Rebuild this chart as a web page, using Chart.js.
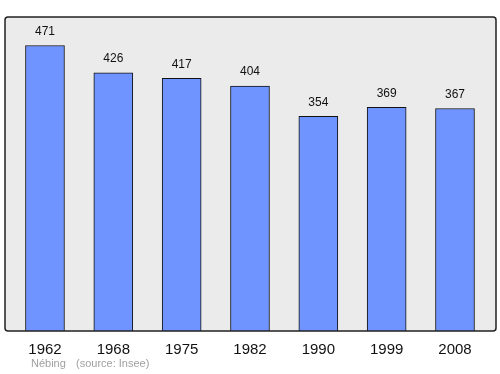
<!DOCTYPE html>
<html>
<head>
<meta charset="utf-8">
<script src="https://cdn.jsdelivr.net/npm/chart.js@4"></script>
<style>
  html, body { margin: 0; padding: 0; background: #fff; }
  #wrap { width: 500px; height: 374px; }
</style>
</head>
<body>
<div id="wrap"><canvas id="chart" width="500" height="374"></canvas></div>
<script>
// data
const years = ["1962", "1968", "1975", "1982", "1990", "1999", "2008"];
const population = [471, 426, 417, 404, 354, 369, 367];
const commune = "Nébing";
const source = "(source: Insee)";

// grey plot background with black rounded frame
const frame = {
    id: "frame",
    beforeDatasetsDraw(chart) {
        const { ctx, chartArea: a } = chart;
        ctx.save();
        ctx.beginPath();
        ctx.roundRect(a.left, a.top, a.right - a.left, a.bottom - a.top, 3);
        ctx.fillStyle = "#ebebeb";
        ctx.fill();
        ctx.restore();
    },
    afterDatasetsDraw(chart) {
        const { ctx, chartArea: a } = chart;
        ctx.save();
        ctx.beginPath();
        ctx.roundRect(a.left, a.top, a.right - a.left, a.bottom - a.top, 3);
        ctx.lineWidth = 1.5;
        ctx.strokeStyle = "#222";
        ctx.stroke();
        ctx.restore();
    },
    afterDraw(chart) {
        const { ctx } = chart;
        const meta = chart.getDatasetMeta(0);
        ctx.save();
        ctx.font = "12px 'Liberation Sans', Arial, sans-serif";
        ctx.fillStyle = "#111";
        ctx.textAlign = "center";
        ctx.textBaseline = "middle";
        meta.data.forEach((bar, i) => {
            ctx.fillText(population[i], bar.x, bar.y - 14);
        });
        // footer
        ctx.font = "11px 'Liberation Sans', Arial, sans-serif";
        ctx.fillStyle = "#a0a0a0";
        ctx.textAlign = "left";
        ctx.fillText(commune, 31, 364);
        ctx.fillText(source, 76, 364);
        ctx.restore();
    }
};

new Chart(document.getElementById("chart"), {
    type: "bar",
    data: {
        datasets: [{
            data: population.map((v, i) => ({ x: i, y: v })),
            backgroundColor: "#7094ff",
            borderColor: "#111",
            borderWidth: 1,
            barThickness: 39
        }]
    },
    options: {
        responsive: false,
        animation: false,
        layout: { padding: { left: 5, right: 4, top: 17, bottom: 13 } },
        plugins: { legend: { display: false }, tooltip: { enabled: false } },
        scales: {
            x: {
                type: "linear",
                offset: false,
                min: -0.585,
                max: 6.6,
                afterBuildTicks: (axis) => {
                    axis.ticks = years.map((y, i) => ({ value: i }));
                },
                ticks: {
                    callback: (v) => years[v],
                    font: { size: 15, family: "'Liberation Sans', Arial, sans-serif" },
                    color: "#111",
                    padding: 2,
                    maxRotation: 0
                },
                grid: { display: false },
                border: { display: false }
            },
            y: {
                display: false,
                min: 0,
                max: 518
            }
        }
    },
    plugins: [frame]
});
</script>
</body>
</html>
